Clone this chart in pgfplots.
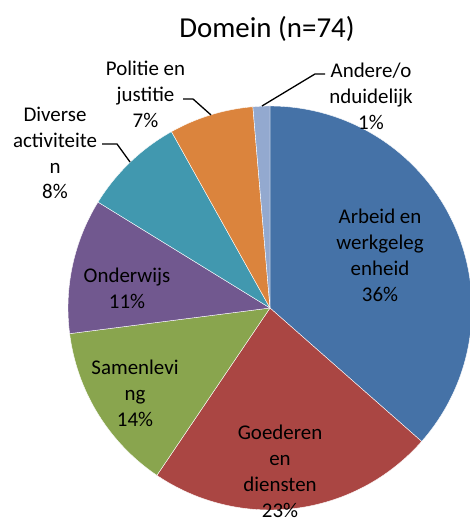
\documentclass[border=0pt]{standalone}
\usepackage{pgfplots}
\pgfplotsset{compat=1.18}
\usepackage{fontspec}
\setmainfont{Carlito}
\definecolor{cArb}{HTML}{4572A7}
\definecolor{cGoe}{HTML}{AA4643}
\definecolor{cSam}{HTML}{89A54E}
\definecolor{cOnd}{HTML}{71588F}
\definecolor{cDiv}{HTML}{4198AF}
\definecolor{cPol}{HTML}{DB843D}
\definecolor{cAnd}{HTML}{93A9CF}
\begin{document}
\begin{tikzpicture}[x=1bp,y=1bp]
% counts (n=74)
\def\nArb{27}\def\nGoe{17}\def\nSam{10}\def\nOnd{8}\def\nDiv{6}\def\nPol{5}\def\nAnd{1}\def\nTot{74}
\pgfmathsetmacro{\tA}{90}
\pgfmathsetmacro{\tB}{\tA-360*\nArb/\nTot}
\pgfmathsetmacro{\tC}{\tB-360*\nGoe/\nTot}
\pgfmathsetmacro{\tD}{\tC-360*\nSam/\nTot}
\pgfmathsetmacro{\tE}{\tD-360*\nOnd/\nTot}
\pgfmathsetmacro{\tF}{\tE-360*\nDiv/\nTot}
\pgfmathsetmacro{\tG}{\tF-360*\nPol/\nTot}
\pgfmathsetmacro{\tH}{\tG-360*\nAnd/\nTot}
\begin{axis}[
  scale only axis, width=470bp, height=519bp,
  xmin=0, xmax=470, ymin=0, ymax=519,
  hide axis, clip=true,
  every axis plot/.append style={samples=90, variable=\t, draw=white, line width=0.4bp},
]
\addplot[fill=cArb, domain=\tB:\tA] ({270+202*cos(t)},{211+202*sin(t)}) -- (axis cs:270,211) -- cycle;
\addplot[fill=cGoe, domain=\tC:\tB] ({270+202*cos(t)},{211+202*sin(t)}) -- (axis cs:270,211) -- cycle;
\addplot[fill=cSam, domain=\tD:\tC] ({270+202*cos(t)},{211+202*sin(t)}) -- (axis cs:270,211) -- cycle;
\addplot[fill=cOnd, domain=\tE:\tD] ({270+202*cos(t)},{211+202*sin(t)}) -- (axis cs:270,211) -- cycle;
\addplot[fill=cDiv, domain=\tF:\tE] ({270+202*cos(t)},{211+202*sin(t)}) -- (axis cs:270,211) -- cycle;
\addplot[fill=cPol, domain=\tG:\tF] ({270+202*cos(t)},{211+202*sin(t)}) -- (axis cs:270,211) -- cycle;
\addplot[fill=cAnd, domain=\tH:\tG] ({270+202*cos(t)},{211+202*sin(t)}) -- (axis cs:270,211) -- cycle;
% leader lines
\addplot[draw=black, line width=1.3bp, mark=none] coordinates {(262,413) (315,445) (325,445)};
\addplot[draw=black, line width=1.3bp, mark=none] coordinates {(211,404) (193,420) (183,420)};
\addplot[draw=black, line width=1.3bp, mark=none] coordinates {(130,357) (117,375) (102,375)};
% labels
\begin{scope}[every node/.style={align=center, anchor=center, font=\fontsize{21}{26}\selectfont, inner sep=0pt}]
\node at (axis cs:371,423) {Andere/o\\nduidelijk\\1\%};
\node at (axis cs:145.5,425) {Politie en\\justitie\\7\%};
\node at (axis cs:55,366) {Diverse\\activiteite\\n\\8\%};
\node at (axis cs:380,264) {Arbeid en\\werkgeleg\\enheid\\36\%};
\node at (axis cs:127,230.5) {Onderwijs\\11\%};
\node at (axis cs:135,126) {Samenlevi\\ng\\14\%};
\node at (axis cs:280,48) {Goederen\\en\\diensten\\23\%};
\end{scope}
\node[font=\fontsize{29}{35}\selectfont, inner sep=0pt] at (axis cs:267,490) {Domein (n=74)};
\end{axis}
\pgfresetboundingbox
\useasboundingbox (0,0) rectangle (470,519);
\end{tikzpicture}
\end{document}
